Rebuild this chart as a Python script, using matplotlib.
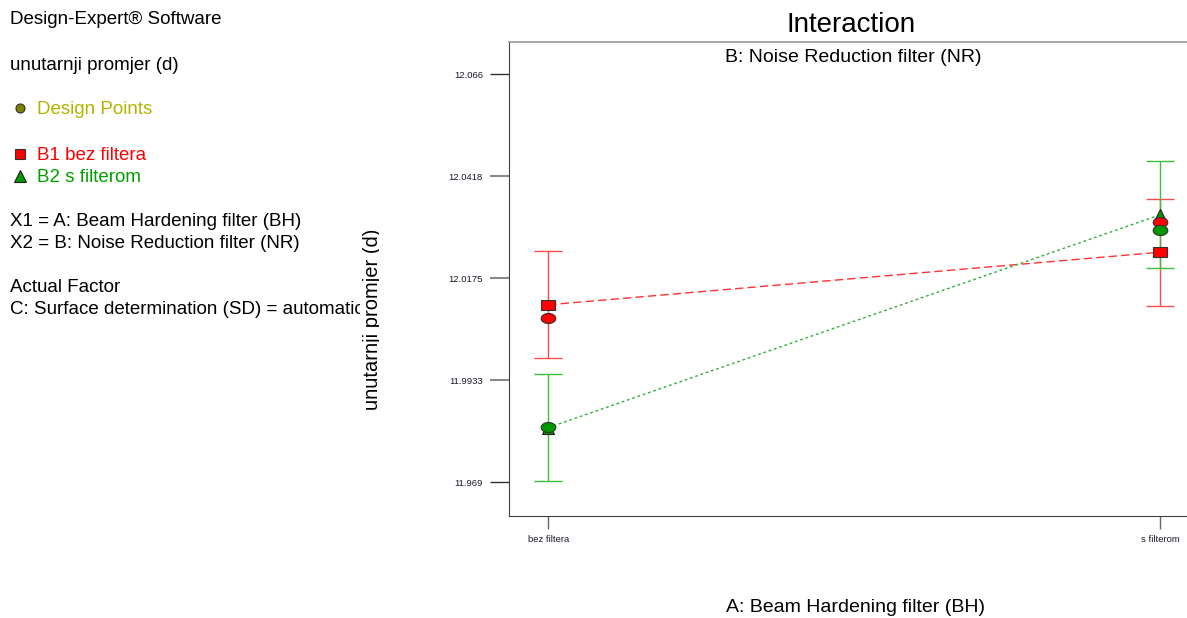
import numpy as np
import matplotlib
matplotlib.use('Agg')
import matplotlib.pyplot as plt
from matplotlib.path import Path
from matplotlib.transforms import Bbox, TransformedBbox

plt.rcParams['font.family'] = ['Liberation Sans', 'DejaVu Sans']

# Factor A levels (x axis)
levelsA = ['bez filtera', 's filterom']
# Predicted means for the two levels of factor B
meanB1 = [12.0112, 12.0237]
meanB2 = [11.9820, 12.0326]
# LSD half widths
lsdB1 = [0.01275, 0.01275]
lsdB2 = [0.01275, 0.01275]
# Design points (actual responses)
pointsB1 = [12.0080, 12.0310]
pointsB2 = [11.9821, 12.0290]
yTicks = [11.969, 11.9933, 12.0175, 12.0418, 12.066]
yTickLabels = ['11.969', '11.9933', '12.0175', '12.0418', '12.066']

W, H = 1187, 618
fig = plt.figure(figsize=(W / 100, H / 100), dpi=100)

# main axes, runs a little past the right edge like the original
ax = fig.add_axes([508.5 / W, (H - 516) / H, (1200 - 508.5) / W, (516 - 42) / H])
x = np.arange(len(levelsA))

# stretched markers (the original image is wider than tall)
t = np.linspace(0, 2 * np.pi, 60)
ellipse = Path(np.column_stack([1.45 * np.cos(t), np.sin(t)]), closed=True)
rect = Path([(-1.45, -1), (1.45, -1), (1.45, 1), (-1.45, 1), (-1.45, -1)], closed=True)

ax.errorbar(x, meanB1, yerr=lsdB1, fmt='none', ecolor='#ff4a4a', elinewidth=1,
            capsize=10, capthick=1, zorder=2)
ax.errorbar(x, meanB2, yerr=lsdB2, fmt='none', ecolor='#3cbf3c', elinewidth=1,
            capsize=10, capthick=1, zorder=2)

ax.plot(x, meanB1, color='#ff3030', lw=1, ls=(0, (6, 3)), zorder=3)
ax.plot(x, meanB2, color='#33b033', lw=1, ls=(0, (2, 2)), zorder=3)

ax.plot(x, meanB1, ls='none', marker=rect, ms=10.5, mfc='#ff0000', mec='#333333',
        mew=0.8, zorder=4)
ax.plot(x, meanB2, ls='none', marker='^', ms=8.5, mfc='#009900', mec='#222222',
        mew=0.8, zorder=4)

ax.plot(x, pointsB1, ls='none', marker=ellipse, ms=10.5, mfc='#ff0000', mec='#333333',
        mew=0.8, zorder=5)
ax.plot(x, pointsB2, ls='none', marker=ellipse, ms=10.5, mfc='#009900', mec='#333333',
        mew=0.8, zorder=5)

ax.set_xlim(-0.065, 1.065)
ax.set_ylim(11.96099, 12.07368)
ax.set_xticks(x)
ax.set_xticklabels(levelsA)
ax.set_yticks(yTicks)
ax.set_yticklabels(yTickLabels)
ax.tick_params(axis='y', direction='out', length=14, pad=4.5, labelsize=6.8,
               labelcolor='#1a1a2a', color='#8a8a8a', width=1.5)
ax.tick_params(axis='x', direction='out', length=9, pad=5, labelsize=6.8,
               labelcolor='#1a1a2a', color='#666666', width=1)
ticks = ax.yaxis.get_major_ticks()
for tick in (ticks[0], ticks[-1]):
    tick.tick1line.set_markeredgecolor('#303030')
    tick.tick1line.set_markeredgewidth(1)

ax.spines['right'].set_visible(False)
ax.spines['top'].set_color('#a0a0a0')
ax.spines['top'].set_linewidth(1.3)
ax.spines['left'].set_color('#404040')
ax.spines['bottom'].set_color('#404040')

# overlay in pixel coordinates for the side panel and titles
ax0 = fig.add_axes([0, 0, 1, 1], facecolor='none')
ax0.set_xlim(0, W)
ax0.set_ylim(H, 0)
ax0.axis('off')

ax0.text(851, 25, 'Interaction', fontsize=20, ha='center', va='center')
ax0.text(853, 58, 'B: Noise Reduction filter (NR)', fontsize=14, ha='center', va='center')
ax0.text(855, 608, 'A: Beam Hardening filter (BH)', fontsize=14, ha='center', va='center')

# y label, descenders cut off like in the original
ylab = ax0.text(377.5, 319, 'unutarnji promjer (d)', fontsize=14.5, rotation=90,
                rotation_mode='anchor', ha='center', va='baseline', clip_on=True)
ylab.set_clip_box(TransformedBbox(Bbox([[0, 0], [378.5, H]]), ax0.transData))

fs = 13.5
panel = [
    (10, 20, 'Design-Expert® Software', 'black'),
    (10, 65, 'unutarnji promjer (d)', 'black'),
    (37, 109, 'Design Points', '#b3b300'),
    (37, 155, 'B1 bez filtera', '#ff0000'),
    (37, 177, 'B2 s filterom', '#00a000'),
    (10, 221, 'X1 = A: Beam Hardening filter (BH)', 'black'),
    (10, 243, 'X2 = B: Noise Reduction filter (NR)', 'black'),
    (10, 288, 'Actual Factor', 'black'),
    (10, 310, 'C: Surface determination (SD) = automatic', 'black'),
]
for px, py, txt, col in panel:
    tt = ax0.text(px, py, txt, fontsize=fs, color=col, ha='left', va='center', clip_on=True)
    tt.set_clip_box(TransformedBbox(Bbox([[0, 0], [360, H]]), ax0.transData))

ax0.plot([20], [108], ls='none', marker='o', ms=6.5, mfc='#808000', mec='#333333', mew=0.8)
ax0.plot([20], [154], ls='none', marker='s', ms=7, mfc='#ff0000', mec='#333333', mew=0.8)
ax0.plot([20], [175.5], ls='none', marker='^', ms=8, mfc='#009900', mec='#222222', mew=0.8)

fig.savefig('out.png', dpi=100)
